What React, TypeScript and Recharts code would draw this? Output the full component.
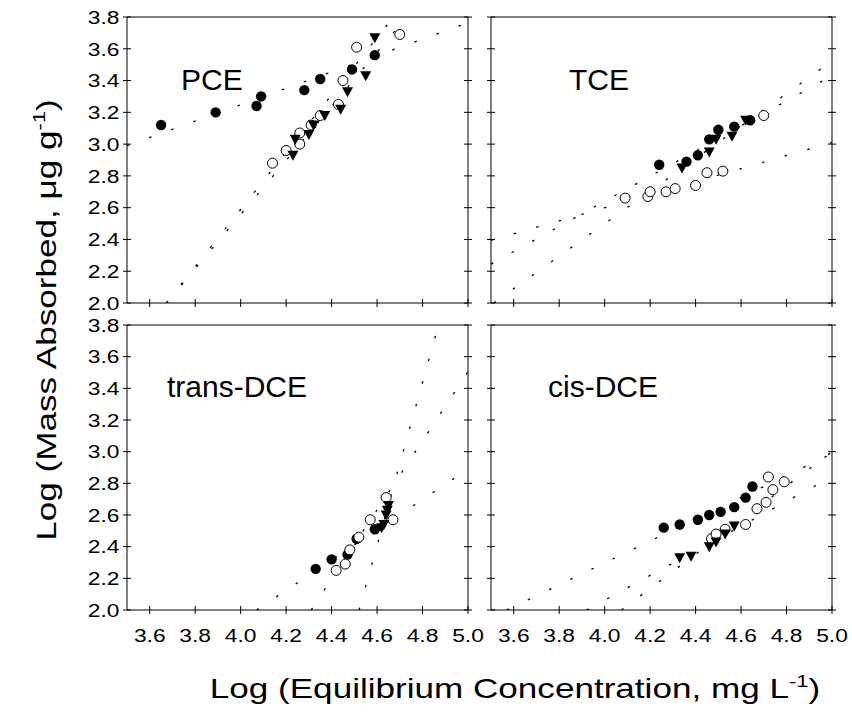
import React from 'react';
import { ComposedChart, Scatter, XAxis, YAxis, ReferenceLine } from 'recharts';

type Pt = { x: number; y: number };
const P = (x: number, y: number): Pt => ({ x, y });

// ---- axis ticks ----
const xTicks = [3.6, 3.8, 4.0, 4.2, 4.4, 4.6, 4.8, 5.0];
const yTicks = [2.0, 2.2, 2.4, 2.6, 2.8, 3.0, 3.2, 3.4, 3.6, 3.8];
const xDomain: [number, number] = [3.5, 5.0];
const yDomain: [number, number] = [2.0, 3.8];

// ---- PCE ----
const pceFilled = [P(3.65, 3.12), P(3.89, 3.2), P(4.07, 3.24), P(4.09, 3.3), P(4.28, 3.34), P(4.35, 3.41), P(4.49, 3.47), P(4.59, 3.56)];
const pceOpen = [P(4.14, 2.88), P(4.2, 2.96), P(4.26, 3.0), P(4.26, 3.07), P(4.31, 3.12), P(4.35, 3.18), P(4.43, 3.25), P(4.45, 3.4), P(4.51, 3.61), P(4.7, 3.69)];
const pceTri = [P(4.23, 2.93), P(4.24, 3.03), P(4.3, 3.06), P(4.32, 3.12), P(4.37, 3.18), P(4.44, 3.22), P(4.47, 3.33), P(4.55, 3.43), P(4.59, 3.67)];
const pceFitFilled = [P(3.5, 2.99), P(5.0, 3.764)];
const pceFitOpen = [P(3.673, 2.0), P(4.73, 3.8)];
const pceFitTri = [P(3.673, 2.0), P(4.672, 3.8)];

// ---- TCE ----
const tceFilled = [P(4.24, 2.87), P(4.36, 2.89), P(4.41, 2.93), P(4.46, 3.03), P(4.5, 3.09), P(4.57, 3.11), P(4.64, 3.15)];
const tceOpen = [P(4.09, 2.66), P(4.19, 2.67), P(4.2, 2.7), P(4.27, 2.7), P(4.31, 2.72), P(4.4, 2.74), P(4.45, 2.82), P(4.52, 2.83), P(4.7, 3.18)];
const tceTri = [P(4.34, 2.85), P(4.46, 2.95), P(4.49, 3.03), P(4.56, 3.05), P(4.62, 3.15)];
const tceFitFilled = [P(3.5, 2.245), P(5.0, 3.43)];
const tceFitOpen = [P(3.5, 2.394), P(5.0, 3.01)];
const tceFitTri = [P(3.512, 2.0), P(5.0, 3.523)];

// ---- trans-DCE ----
const transFilled = [P(4.33, 2.26), P(4.4, 2.32), P(4.47, 2.35), P(4.51, 2.45), P(4.59, 2.51)];
const transOpen = [P(4.42, 2.25), P(4.46, 2.29), P(4.48, 2.38), P(4.52, 2.46), P(4.57, 2.57), P(4.64, 2.71), P(4.67, 2.57)];
const transTri = [P(4.62, 2.52), P(4.63, 2.54), P(4.64, 2.6), P(4.645, 2.63), P(4.65, 2.66)];
const transFitFilled = [P(4.07, 2.0), P(5.0, 2.889)];
const transFitOpen = [P(4.31, 2.0), P(5.0, 3.505)];
const transFitTri = [P(4.521, 2.0), P(4.87, 3.8)];

// ---- cis-DCE ----
const cisFilled = [P(4.26, 2.52), P(4.33, 2.54), P(4.41, 2.57), P(4.46, 2.6), P(4.51, 2.62), P(4.57, 2.65), P(4.62, 2.71), P(4.65, 2.78)];
const cisOpen = [P(4.47, 2.45), P(4.49, 2.48), P(4.53, 2.51), P(4.62, 2.54), P(4.67, 2.64), P(4.71, 2.68), P(4.74, 2.76), P(4.72, 2.84), P(4.79, 2.81)];
const cisTri = [P(4.33, 2.33), P(4.38, 2.34), P(4.46, 2.4), P(4.49, 2.43), P(4.53, 2.48), P(4.57, 2.53)];
const cisFitFilled = [P(3.569, 2.0), P(5.0, 2.987)];
const cisFitOpen = [P(3.92, 2.0), P(5.0, 2.842)];
const cisFitTri = [P(4.074, 2.0), P(5.0, 3.0)];

const FONT = "'Liberation Sans', Arial, Helvetica, sans-serif";
const TICK_STRETCH = 1.2;
const TICK_FONT = 19;
const TITLE_STRETCH = 1.3;
const TITLE_FONT = 27;

const makeXTick = (showLabel: boolean) => (props: any) => {
  const { x, y, payload } = props;
  return (
    <g>
      <line x1={x} x2={x} y1={y - 4} y2={y + 4} stroke="#000" strokeWidth={1} />
      {showLabel && (
        <text
          transform={`translate(${x},${y + 25}) scale(${TICK_STRETCH},1)`}
          textAnchor="middle"
          dominantBaseline="central"
          fontSize={TICK_FONT}
          fontFamily={FONT}
          fill="#000"
        >
          {Number(payload.value).toFixed(1)}
        </text>
      )}
    </g>
  );
};

const makeYTick = (showLabel: boolean) => (props: any) => {
  const { x, y, payload } = props;
  return (
    <g>
      <line x1={x - 4} x2={x + 4} y1={y} y2={y} stroke="#000" strokeWidth={1} />
      {showLabel && (
        <text
          transform={`translate(${x - 7.5},${y}) scale(${TICK_STRETCH},1)`}
          textAnchor="end"
          dominantBaseline="central"
          fontSize={TICK_FONT}
          fontFamily={FONT}
          fill="#000"
        >
          {Number(payload.value).toFixed(1)}
        </text>
      )}
    </g>
  );
};

const FilledCircle = (p: any) => <circle cx={p.cx} cy={p.cy} r={5.2} fill="#000" />;
const OpenCircle = (p: any) => <circle cx={p.cx} cy={p.cy} r={5} fill="#fff" stroke="#000" strokeWidth={1} />;
const DownTri = (p: any) => (
  <polygon
    points={`${p.cx - 5.5},${p.cy - 4.5} ${p.cx + 5.5},${p.cy - 4.5} ${p.cx},${p.cy + 5.5}`}
    fill="#000"
  />
);
const NoDot = () => <g />;

type PanelProps = {
  left: number;
  top: number;
  plotH: number;
  showYLabels: boolean;
  showXLabels: boolean;
  filled: Pt[];
  open: Pt[];
  tri: Pt[];
  fits: Pt[][];
};

function Panel({ left, top, plotH, showYLabels, showXLabels, filled, open, tri, fits }: PanelProps) {
  const plotW = 341;
  const W = 60 + plotW + 20;
  const H = 10 + plotH + 40;
  return (
    <div style={{ position: 'absolute', left: left - 60, top: top - 10 }}>
      <ComposedChart width={W} height={H} margin={{ top: 10, right: 0, bottom: 0, left: 0 }}>
        <XAxis
          type="number"
          dataKey="x"
          domain={xDomain}
          ticks={xTicks}
          interval={0}
          tickSize={0}
          tickMargin={0}
          height={40}
          axisLine={{ stroke: '#000' }}
          tickLine={false}
          tick={makeXTick(showXLabels)}
          allowDataOverflow
        />
        <YAxis
          yAxisId="l"
          type="number"
          dataKey="y"
          domain={yDomain}
          ticks={yTicks}
          interval={0}
          tickSize={0}
          tickMargin={0}
          width={60}
          axisLine={{ stroke: '#000' }}
          tickLine={false}
          tick={makeYTick(showYLabels)}
          allowDataOverflow
        />
        <YAxis
          yAxisId="r"
          orientation="right"
          type="number"
          dataKey="y"
          domain={yDomain}
          ticks={yTicks}
          interval={0}
          tickSize={0}
          tickMargin={0}
          width={20}
          axisLine={{ stroke: '#000' }}
          tickLine={false}
          tick={makeYTick(false)}
          allowDataOverflow
        />
        <ReferenceLine yAxisId="l" y={3.8} stroke="#000" strokeWidth={1} />
        {fits.map((f, i) => (
          <Scatter
            key={'fit' + i}
            yAxisId="l"
            data={f}
            line={{ stroke: '#000', strokeWidth: 1.3, strokeDasharray: '2.5 21' }}
            shape={NoDot}
            isAnimationActive={false}
          />
        ))}
        <Scatter yAxisId="l" data={filled} shape={FilledCircle} isAnimationActive={false} />
        <Scatter yAxisId="l" data={open} shape={OpenCircle} isAnimationActive={false} />
        <Scatter yAxisId="l" data={tri} shape={DownTri} isAnimationActive={false} />
      </ComposedChart>
    </div>
  );
}

export default function App() {
  return (
    <div style={{ position: 'absolute', left: 0, top: 0, width: 852, height: 713, background: '#fff', fontFamily: FONT }}>
      <Panel left={127} top={17} plotH={286} showYLabels showXLabels={false} filled={pceFilled} open={pceOpen} tri={pceTri} fits={[pceFitFilled, pceFitOpen, pceFitTri]} />
      <Panel left={491} top={17} plotH={286} showYLabels={false} showXLabels={false} filled={tceFilled} open={tceOpen} tri={tceTri} fits={[tceFitFilled, tceFitOpen, tceFitTri]} />
      <Panel left={127} top={325} plotH={285} showYLabels showXLabels filled={transFilled} open={transOpen} tri={transTri} fits={[transFitFilled, transFitOpen, transFitTri]} />
      <Panel left={491} top={325} plotH={285} showYLabels={false} showXLabels filled={cisFilled} open={cisOpen} tri={cisTri} fits={[cisFitFilled, cisFitOpen, cisFitTri]} />
      <svg width={852} height={713} style={{ position: 'absolute', left: 0, top: 0, pointerEvents: 'none' }}>
        <g fontFamily={FONT} fill="#000">
          <text x={181} y={90} fontSize={30}>PCE</text>
          <text x={569} y={90} fontSize={30}>TCE</text>
          <text x={167} y={397} fontSize={30}>trans-DCE</text>
          <text x={548} y={397} fontSize={30}>cis-DCE</text>
          <text transform={`translate(56,320) rotate(-90) scale(${TITLE_STRETCH},1)`} textAnchor="middle" fontSize={TITLE_FONT}>
            Log (Mass Absorbed, μg g<tspan dy={-11} fontSize={17}>-1</tspan><tspan dy={11}>)</tspan>
          </text>
          <text transform={`translate(515,698) scale(${TITLE_STRETCH},1)`} textAnchor="middle" fontSize={TITLE_FONT}>
            Log (Equilibrium Concentration, mg L<tspan dy={-11} fontSize={17}>-1</tspan><tspan dy={11}>)</tspan>
          </text>
        </g>
      </svg>
    </div>
  );
}
